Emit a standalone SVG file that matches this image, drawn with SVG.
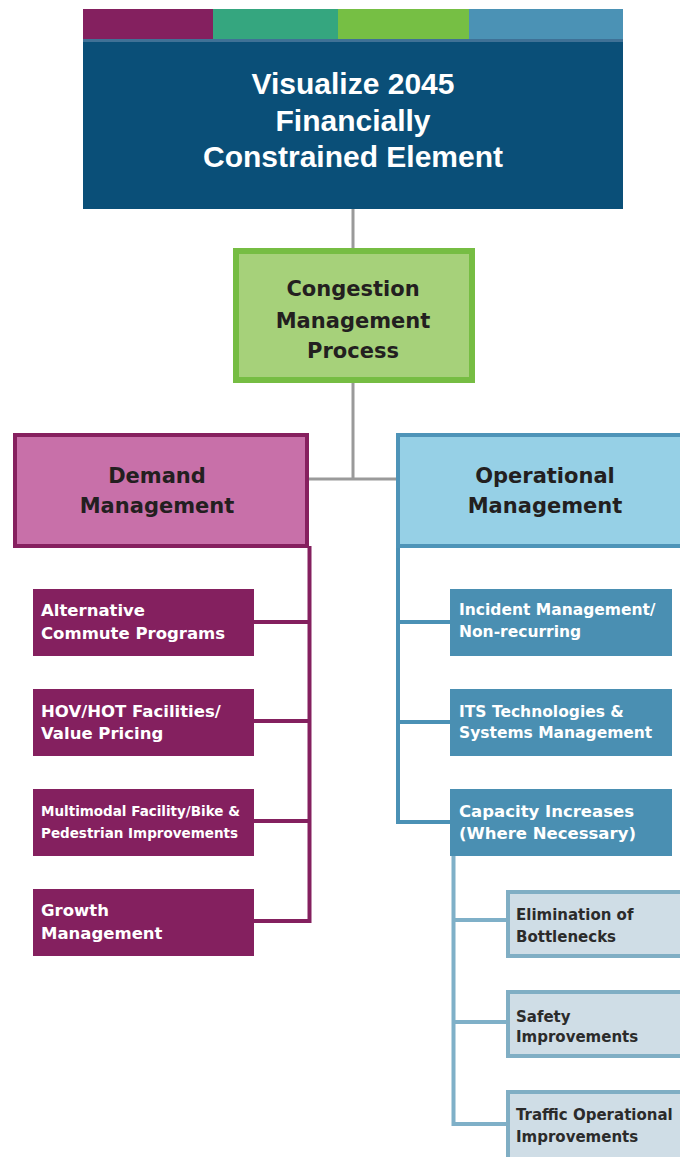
<svg xmlns="http://www.w3.org/2000/svg" width="680" height="1157" viewBox="0 0 680 1157">
<style>
.t{font-family:"Liberation Sans",Arial,sans-serif;font-weight:bold;fill:#fff;font-size:30px;text-anchor:middle}
.h{font-family:"DejaVu Sans","Liberation Sans",sans-serif;font-weight:bold;fill:#231f20;font-size:21px;text-anchor:middle}
.c{font-family:"DejaVu Sans","Liberation Sans",sans-serif;font-weight:bold;fill:#fff;font-size:16.5px}
.s{font-family:"DejaVu Sans","Liberation Sans",sans-serif;font-weight:bold;fill:#fff;font-size:13.5px}
.d{font-family:"DejaVu Sans","Liberation Sans",sans-serif;fill:#2b2b2b;font-size:15px;font-weight:bold}
.pc{fill:#84205f}
.oc{fill:#4a8fb2}
.cc{fill:#cfdde6;stroke:#80aec4;stroke-width:4}
</style>
<rect width="680" height="1157" fill="#fff"/>
<g id="connectors" fill="none">
<path d="M353 209V250M353 380V479M309 479H397" stroke="#9a9a9a" stroke-width="3"/>
<path d="M309.5 546V923M252 622H311M252 721H311M252 821H311M252 921H311" stroke="#84205f" stroke-width="4"/>
<path d="M398 546V824M396 622H452M396 722H452M396 822H452" stroke="#4b91b5" stroke-width="4"/>
<path d="M453.5 854V1126M452 920H508M452 1022H508M452 1124H508" stroke="#7fb0c8" stroke-width="4"/>
</g>
<g id="top">
<rect x="83" y="9" width="130" height="30" fill="#84205f"/>
<rect x="213" y="9" width="125" height="30" fill="#35a67f"/>
<rect x="338" y="9" width="131" height="30" fill="#76bf44"/>
<rect x="469" y="9" width="154" height="30" fill="#4b92b5"/>
<rect x="83" y="39" width="540" height="170" fill="#0a4f78"/>
<rect x="83" y="39" width="540" height="3" fill="#3f7196"/>
<text class="t" x="353" y="94">Visualize 2045</text>
<text class="t" x="353" y="131">Financially</text>
<text class="t" x="353" y="167">Constrained Element</text>
</g>
<g id="cmp">
<rect x="236" y="251" width="236" height="129" fill="#a6d17a" stroke="#76bd43" stroke-width="6"/>
<text class="h" x="353" y="296">Congestion</text>
<text class="h" x="353" y="328">Management</text>
<text class="h" x="353" y="358">Process</text>
</g>
<g id="demand">
<rect x="15" y="435" width="292" height="111" fill="#c870a9" stroke="#86205f" stroke-width="4"/>
<text class="h" x="157" y="483">Demand</text>
<text class="h" x="157" y="513">Management</text>
</g>
<g id="operational">
<rect x="398" y="435" width="292" height="111" fill="#96d0e6" stroke="#4e94b8" stroke-width="4"/>
<text class="h" x="545" y="483">Operational</text>
<text class="h" x="545" y="513">Management</text>
</g>
<g id="alt">
<rect class="pc" x="33" y="589" width="221" height="67"/>
<text class="c" x="41" y="616">Alternative</text>
<text class="c" x="41" y="639">Commute Programs</text>
</g>
<g id="hov">
<rect class="pc" x="33" y="689" width="221" height="67"/>
<text class="c" x="41" y="717">HOV/HOT Facilities/</text>
<text class="c" x="41" y="739">Value Pricing</text>
</g>
<g id="multimodal">
<rect class="pc" x="33" y="789" width="221" height="67"/>
<text class="s" x="41" y="816">Multimodal Facility/Bike &amp;</text>
<text class="s" x="41" y="838">Pedestrian Improvements</text>
</g>
<g id="growth">
<rect class="pc" x="33" y="889" width="221" height="67"/>
<text class="c" x="41" y="916">Growth</text>
<text class="c" x="41" y="939">Management</text>
</g>
<g id="incident">
<rect class="oc" x="450" y="589" width="222" height="67"/>
<text class="c" x="459" y="615" style="font-size:15.5px">Incident Management/</text>
<text class="c" x="459" y="637" style="font-size:15.5px">Non-recurring</text>
</g>
<g id="its">
<rect class="oc" x="450" y="689" width="222" height="67"/>
<text class="c" x="459" y="717" style="font-size:15.5px">ITS Technologies &amp;</text>
<text class="c" x="459" y="738" style="font-size:15.5px">Systems Management</text>
</g>
<g id="capacity">
<rect class="oc" x="450" y="789" width="222" height="67"/>
<text class="c" x="459" y="817">Capacity Increases</text>
<text class="c" x="459" y="839">(Where Necessary)</text>
</g>
<g id="bottlenecks">
<rect class="cc" x="508" y="892" width="180" height="64"/>
<text class="d" x="516" y="920">Elimination of</text>
<text class="d" x="516" y="942">Bottlenecks</text>
</g>
<g id="safety">
<rect class="cc" x="508" y="992" width="180" height="64"/>
<text class="d" x="516" y="1022">Safety</text>
<text class="d" x="516" y="1042">Improvements</text>
</g>
<g id="traffic">
<rect class="cc" x="508" y="1092" width="180" height="70"/>
<text class="d" x="516" y="1120">Traffic Operational</text>
<text class="d" x="516" y="1142">Improvements</text>
</g>
</svg>
